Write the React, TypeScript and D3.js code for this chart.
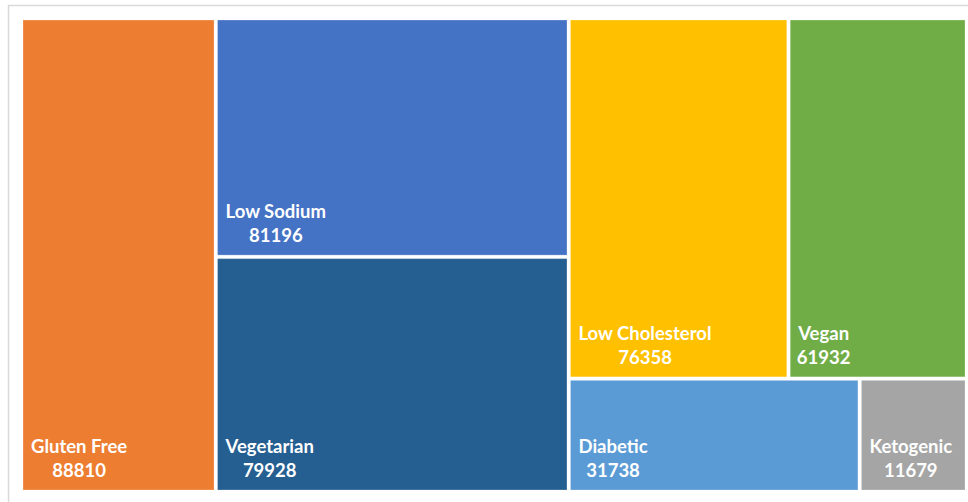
import React from "react";
import * as d3 from "d3";

const names = ["Gluten Free", "Low Sodium", "Vegetarian", "Low Cholesterol", "Vegan", "Diabetic", "Ketogenic"];
const values = [88810, 81196, 79928, 76358, 61932, 31738, 11679];
const colors = ["#ED7D31", "#4472C4", "#255E91", "#FFC000", "#70AD47", "#5B9BD5", "#A5A5A5"];
// grouping of leaf indices (layout structure of the treemap)
const groups: any[] = [0, [1, 2], [[3, 4], [5, 6]]];

const W = 968, H = 502;
const X0 = 23, Y0 = 20, X1 = 965, Y1 = 490;
const FONT = "Lato, 'Noto Sans', sans-serif";
const FS = 18.5;

function build(g: any): any {
  if (typeof g === "number") return { idx: g, value: values[g] };
  return { children: g.map(build) };
}

let ctx: CanvasRenderingContext2D | null = null;
function measure(t: string) {
  if (!ctx) ctx = document.createElement("canvas").getContext("2d");
  if (!ctx) return t.length * 8;
  ctx.font = `700 ${FS}px ${FONT}`;
  return ctx.measureText(t).width;
}

export default function App() {
  const root = d3.hierarchy(build(groups)).sum((d: any) => d.value ?? 0);
  d3.treemap().tile(d3.treemapSliceDice).size([X1 - X0, Y1 - Y0]).paddingInner(3.5)(root as any);
  const leaves = root.leaves() as any[];
  return (
    <svg width={W} height={H} style={{ position: "absolute", left: 0, top: 0 }}>
      <rect x={8.5} y={5.5} width={980} height={520} fill="#fff" stroke="#D9D9D9" strokeWidth={1.5} />
      <g transform={`translate(${X0},${Y0})`}>
        {leaves.map((l) => {
          const i = l.data.idx;
          const nw = measure(names[i]);
          const tx = l.x0 + 8;
          return (
            <g key={i}>
              <rect x={l.x0} y={l.y0} width={l.x1 - l.x0} height={l.y1 - l.y0} fill={colors[i]}
                stroke="rgba(255,255,255,0.25)" strokeWidth={1} />
              <text x={tx} y={l.y1 - 37} fill="#fff" fontFamily={FONT} fontWeight={700} fontSize={FS}>{names[i]}</text>
              <text x={tx + nw / 2} y={l.y1 - 13} fill="#fff" fontFamily={FONT} fontWeight={700} fontSize={FS} textAnchor="middle">{values[i]}</text>
            </g>
          );
        })}
      </g>
    </svg>
  );
}
